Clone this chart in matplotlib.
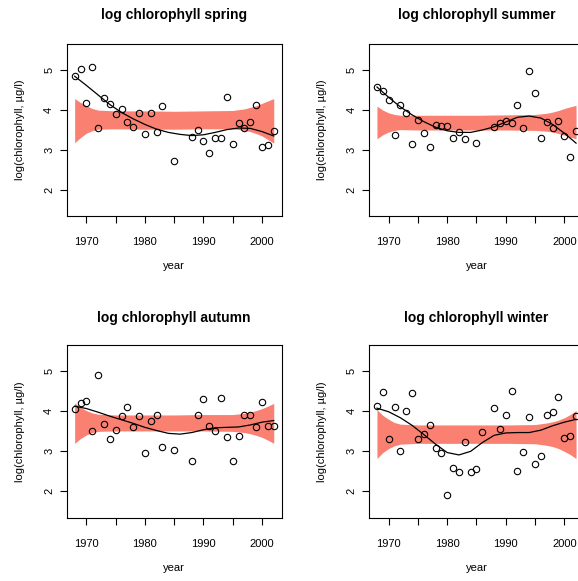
import numpy as np
import matplotlib
matplotlib.use("Agg")
import matplotlib.pyplot as plt

plt.rcParams['font.family'] = ['Liberation Sans', 'DejaVu Sans']

years_a = list(range(1968, 1984)) + [1985] + list(range(1988, 2003))
years_w = list(range(1968, 1987)) + list(range(1988, 2003))

spring = [4.85, 5.03, 4.18, 5.07, 3.54, 4.30, 4.16, 3.91, 4.03, 3.71, 3.58, 3.93, 3.41, 3.93, 3.44, 4.10,
          2.71,
          3.33, 3.51, 3.23, 2.93, 3.30, 3.30, 4.33, 3.15, 3.68, 3.54, 3.69, 4.14, 3.08, 3.12, 3.48]
summer = [4.58, 4.48, 4.25, 3.38, 4.12, 3.93, 3.14, 3.74, 3.43, 3.08, 3.63, 3.59, 3.59, 3.30, 3.46, 3.27,
          3.18,
          3.57, 3.68, 3.72, 3.68, 4.13, 3.55, 4.99, 4.43, 3.31, 3.71, 3.56, 3.73, 3.36, 2.83, 3.48]
autumn = [4.07, 4.22, 4.25, 3.50, 4.90, 3.68, 3.32, 3.54, 3.89, 4.11, 3.62, 3.89, 2.96, 3.75, 3.90, 3.12,
          3.03,
          2.75, 3.90, 4.32, 3.63, 3.52, 4.33, 3.37, 2.76, 3.39, 3.92, 3.90, 3.61, 4.24, 3.63, 3.64]
winter = [4.14, 4.48, 3.32, 4.10, 3.00, 4.01, 4.47, 3.32, 3.43, 3.67, 3.08, 2.95, 1.92, 2.58, 2.48, 3.23,
          2.48, 2.56, 3.49,
          4.08, 3.57, 3.90, 4.51, 2.52, 2.98, 3.85, 2.68, 2.88, 3.91, 3.98, 4.36, 3.33, 3.39, 3.88]

# smooth curves
curve_years = [1968, 1970, 1972, 1974, 1976, 1978, 1980, 1982, 1984, 1986, 1988, 1990, 1992, 1994, 1996,
               1998, 2000, 2002]
spring_fit = [4.85, 4.62, 4.38, 4.14, 3.94, 3.78, 3.64, 3.52, 3.44, 3.39, 3.36, 3.38, 3.44, 3.51, 3.55,
              3.54, 3.46, 3.35]
summer_fit = [4.58, 4.32, 4.08, 3.88, 3.71, 3.57, 3.48, 3.44, 3.44, 3.50, 3.58, 3.70, 3.82, 3.85, 3.80,
              3.64, 3.42, 3.17]
autumn_fit = [4.13, 4.07, 3.98, 3.88, 3.79, 3.70, 3.60, 3.52, 3.45, 3.43, 3.47, 3.54, 3.59, 3.60, 3.61,
              3.66, 3.73, 3.77]
winter_fit = [4.08, 3.99, 3.84, 3.65, 3.42, 3.18, 2.97, 2.91, 3.00, 3.22, 3.40, 3.46, 3.47, 3.47, 3.53,
              3.64, 3.73, 3.80]

# reference bands
band_years = [1968, 1969, 1970, 1971, 1972, 1975, 1980, 1985, 1990, 1995, 1997, 1998, 1999, 2000, 2001, 2002]
spring_hi = [4.29, 4.19, 4.11, 4.04, 4.00, 3.98, 3.98, 3.97, 3.98, 3.99, 4.03, 4.07, 4.11, 4.17, 4.23, 4.29]
spring_lo = [3.18, 3.31, 3.42, 3.48, 3.52, 3.53, 3.52, 3.52, 3.53, 3.53, 3.49, 3.46, 3.41, 3.35, 3.26, 3.17]
summer_hi = [4.10, 4.00, 3.93, 3.89, 3.87, 3.87, 3.87, 3.87, 3.88, 3.89, 3.92, 3.95, 3.99, 4.04, 4.08, 4.12]
summer_lo = [3.28, 3.38, 3.45, 3.49, 3.51, 3.50, 3.50, 3.50, 3.50, 3.49, 3.47, 3.45, 3.41, 3.37, 3.32, 3.28]
autumn_hi = [4.21, 4.10, 4.02, 3.96, 3.93, 3.91, 3.91, 3.91, 3.92, 3.92, 3.95, 3.98, 4.02, 4.07, 4.13, 4.20]
autumn_lo = [3.20, 3.32, 3.41, 3.47, 3.50, 3.51, 3.51, 3.51, 3.51, 3.50, 3.47, 3.44, 3.40, 3.35, 3.28, 3.20]
winter_hi = [4.04, 3.90, 3.80, 3.72, 3.68, 3.66, 3.66, 3.66, 3.66, 3.67, 3.71, 3.74, 3.78, 3.84, 3.92, 4.02]
winter_lo = [2.82, 2.97, 3.07, 3.14, 3.18, 3.20, 3.20, 3.20, 3.20, 3.19, 3.15, 3.12, 3.07, 3.00, 2.92, 2.82]

titles = ["log chlorophyll spring", "log chlorophyll summer",
          "log chlorophyll autumn", "log chlorophyll winter"]
x_ticks = [1970, 1975, 1980, 1985, 1990, 1995, 2000]
x_tick_labels = ["1970", "", "1980", "", "1990", "", "2000"]
y_ticks = [2, 3, 4, 5]

panels = [
    (years_a, spring, spring_fit, spring_hi, spring_lo),
    (years_a, summer, summer_fit, summer_hi, summer_lo),
    (years_a, autumn, autumn_fit, autumn_hi, autumn_lo),
    (years_w, winter, winter_fit, winter_hi, winter_lo),
]

W, H = 578, 581
fig = plt.figure(figsize=(W / 100, H / 100), dpi=100)

# pixel boxes: left, top, right, bottom (right column runs past the image edge)
boxes = [(66.7, 44, 281.7, 216), (369, 44, 584, 216),
         (66.7, 345, 281.7, 517.7), (369, 345, 584, 517.7)]
title_y = [15, 15, 318, 318]
xlab_y = [266, 266, 568, 568]

for i, (yrs, vals, fit, hi, lo) in enumerate(panels):
    l, t, r, b = boxes[i]
    ax = fig.add_axes([l / W, 1 - b / H, (r - l) / W, (b - t) / H])
    ax.fill_between(band_years, lo, hi, color="#FA8072", lw=0)
    ax.plot(curve_years, fit, color="black", lw=0.9)
    ax.plot(yrs, vals, "o", mfc="none", mec="black", ms=4.6, mew=0.8)
    ax.set_xlim(1966.64, 2003.36)
    ax.set_ylim(1.34, 5.66)
    ax.set_xticks(x_ticks)
    ax.set_xticklabels(x_tick_labels)
    ax.set_yticks(y_ticks)
    ax.set_yticklabels([str(v) for v in y_ticks], rotation=90, va="center")
    ax.tick_params(direction="out", length=5, width=0.8, labelsize=8, colors="black")
    ax.tick_params(axis="x", pad=10)
    ax.tick_params(axis="y", pad=4)
    for s in ax.spines.values():
        s.set_linewidth(0.8)
    cx = (l + r) / 2
    cy = (t + b) / 2
    fig.text(cx / W, 1 - title_y[i] / H, titles[i], ha="center", va="center",
             fontsize=10, fontweight="bold")
    fig.text(cx / W, 1 - xlab_y[i] / H, "year", ha="center", va="center", fontsize=8)
    fig.text((l - 46.7) / W, 1 - cy / H, "log(chlorophyll, µg/l)", ha="center", va="center",
             rotation=90, fontsize=8)

fig.savefig("out.png", dpi=100)
